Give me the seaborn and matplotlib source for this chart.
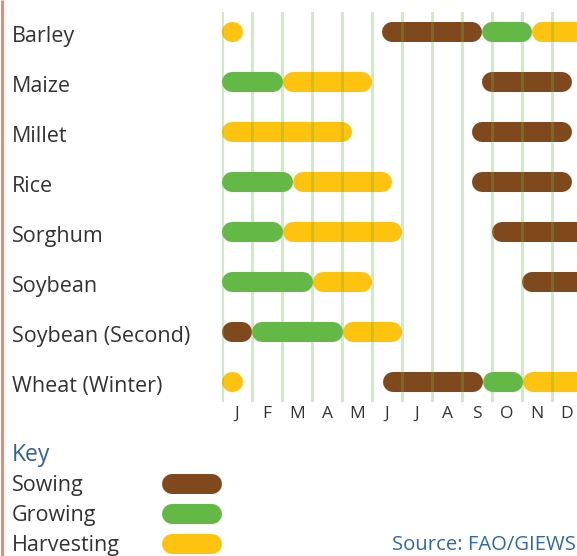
import matplotlib
matplotlib.use("Agg")
import matplotlib.pyplot as plt
import numpy as np
import pandas as pd
import seaborn as sns

# Crop calendar: each season stage spans [start, end] in months (0 = start of January)
crops = ["Barley", "Maize", "Millet", "Rice", "Sorghum", "Soybean",
         "Soybean (Second)", "Wheat (Winter)"]
months = ["J", "F", "M", "A", "M", "J", "J", "A", "S", "O", "N", "D"]
stages = ["Sowing", "Growing", "Harvesting"]

barley = [("Harvesting", 0.0, 0.7), ("Sowing", 5.33, 8.67),
          ("Growing", 8.67, 10.33), ("Harvesting", 10.33, 12.4)]
maize = [("Growing", 0.0, 2.03), ("Harvesting", 2.03, 5.0),
         ("Sowing", 8.67, 11.67), ("Growing", 11.67, 12.4)]
millet = [("Harvesting", 0.0, 4.33), ("Sowing", 8.33, 11.67),
          ("Harvesting", 11.67, 12.4)]
rice = [("Growing", 0.0, 2.37), ("Harvesting", 2.37, 5.67),
        ("Sowing", 8.33, 11.67), ("Growing", 11.67, 12.4)]
sorghum = [("Growing", 0.0, 2.03), ("Harvesting", 2.03, 6.0),
           ("Sowing", 9.0, 12.4)]
soybean = [("Growing", 0.0, 3.03), ("Harvesting", 3.03, 5.0),
           ("Sowing", 10.0, 12.4)]
soybean_second = [("Sowing", 0.0, 1.0), ("Growing", 1.0, 4.03),
                  ("Harvesting", 4.03, 6.0)]
wheat_winter = [("Harvesting", 0.0, 0.7), ("Sowing", 5.37, 8.7),
                ("Growing", 8.7, 10.03), ("Harvesting", 10.03, 12.4)]

calendar = [barley, maize, millet, rice, sorghum, soybean,
            soybean_second, wheat_winter]

palette = {"Sowing": "#80491d", "Growing": "#64b946", "Harvesting": "#fec30e"}
grid_green = "#64b946"
text_gray = "#333333"
key_blue = "#33628f"

DPI = 100
W, H = 577, 556
BAR_PX = 20                      # thickness of a stage pill in pixels
PX_PER_MONTH = 30
cap = (BAR_PX / 2) / PX_PER_MONTH  # round cap radius in months

# Long table: one pill = two points (cap centres), one unit per pill
rows = []
seg = 0
for r, stages_of_crop in enumerate(calendar):
    for stage, start, end in stages_of_crop:
        a = start + cap
        b = max(end - cap, a + 1e-3)
        rows.append(dict(seg=seg, crop=crops[r], row=r, stage=stage, month=a))
        rows.append(dict(seg=seg, crop=crops[r], row=r, stage=stage, month=b))
        seg += 1
df = pd.DataFrame(rows)

sns.set_style("white")
plt.rcParams["font.family"] = ["Open Sans", "DejaVu Sans"]

fig = plt.figure(figsize=(W / DPI, H / DPI), dpi=DPI)

# Calendar axes (extends slightly past the right edge of the figure)
left, right, top, bottom = 222, 582, 12, 402
ax = fig.add_axes([left / W, 1 - bottom / H, (right - left) / W, (bottom - top) / H])
lw_pt = BAR_PX * 72 / DPI
sns.lineplot(data=df, x="month", y="row", hue="stage", units="seg",
             estimator=None, sort=False, palette=palette, linewidth=lw_pt,
             solid_capstyle="round", legend=False, ax=ax)

ax.set_xlim(0, 12)
ax.set_ylim(7.4, -0.4)
for s in ax.spines.values():
    s.set_visible(False)

# month boundaries as light green rules drawn over the pills
ax.set_xticks(np.arange(13), minor=True)
ax.set_xticks(np.arange(12) + 0.5)
ax.set_xticklabels(months, fontsize=12.5, color=text_gray)
ax.tick_params(axis="x", which="both", length=0, pad=3)
ax.set_axisbelow(False)
ax.grid(False)
ax.grid(True, which="minor", axis="x", color=grid_green, alpha=0.3,
        linewidth=2.2)

ax.set_yticks(np.arange(len(crops)) + 0.04)
ax.set_yticklabels(crops, fontsize=15.5, color=text_gray, ha="left")
ax.tick_params(axis="y", length=0, pad=(left - 12) * 72 / DPI)
ax.set_xlabel("")
ax.set_ylabel("")

# Overlay in pixel coordinates for the key, source and frame line
ov = fig.add_axes([0, 0, 1, 1], zorder=-1)
ov.set_xlim(0, W)
ov.set_ylim(H, 0)
ov.axis("off")
ov.plot([1.5, 1.5], [0, H], color="#f2876a", linewidth=3 * 72 / DPI,
        solid_capstyle="butt")

ov.text(12, 455, "Key", fontsize=16.5, color=key_blue, va="center", ha="left")
for i, stage in enumerate(stages):
    y = 485 + 30 * i
    ov.text(12, y, stage, fontsize=15.5, color=text_gray, va="center", ha="left")
    ov.plot([172, 212], [y - 1, y - 1], color=palette[stage], linewidth=lw_pt,
            solid_capstyle="round")
ov.text(392, 545, "Source: FAO/GIEWS", fontsize=14.6, color="#2f6aa0",
        va="center", ha="left")

fig.savefig("out.png", dpi=DPI)
